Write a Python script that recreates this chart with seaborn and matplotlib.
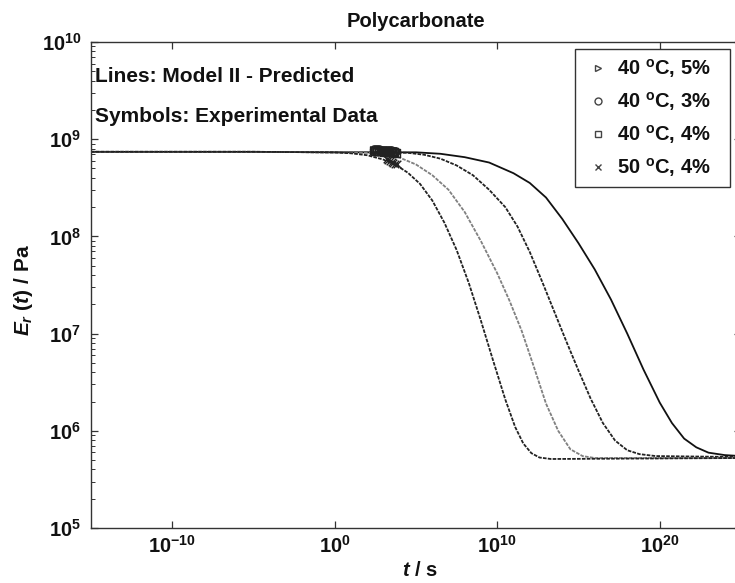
import matplotlib
matplotlib.use("Agg")
import numpy as np
import pandas as pd
import matplotlib.pyplot as plt
import seaborn as sns
from matplotlib.lines import Line2D
from matplotlib.ticker import FixedLocator, FixedFormatter, LogLocator, NullLocator, NullFormatter

# ---------------- data (log10 values) ----------------
series_names = ["40 ºC, 5%", "40 ºC, 3%", "40 ºC, 4%", "50 ºC, 4%"]
legend_labels = [r"40 $^{o}$C, 5%   ", r"40 $^{o}$C, 3%   ", r"40 $^{o}$C, 4%   ", r"50 $^{o}$C, 4%   "]
markers = [">", "o", "s", "x"]

# Model II predicted curves
log_t_50C_4 = [-15, -5, 0, 1.0, 2.0, 3.0, 3.9, 4.5, 5.25, 6.0, 6.75, 7.5, 8.25, 9.0, 9.75, 10.5,
               11.1, 11.6, 12.1, 12.6, 13.3, 25]
log_E_50C_4 = [8.87, 8.87, 8.865, 8.855, 8.835, 8.79, 8.72, 8.655, 8.54, 8.37, 8.14, 7.86, 7.52,
               7.13, 6.72, 6.32, 6.04, 5.87, 5.77, 5.725, 5.71, 5.72]

log_t_40C_5 = [-15, -5, 0, 2.0, 3.0, 4.0, 5.0, 6.0, 7.0, 8.0, 9.0, 10.0, 10.75, 11.5, 12.25, 13.0,
               13.75, 14.5, 15.25, 16.0, 25]
log_E_40C_5 = [8.87, 8.87, 8.865, 8.865, 8.85, 8.81, 8.74, 8.63, 8.48, 8.25, 7.95, 7.62, 7.34, 7.03,
               6.66, 6.28, 6.00, 5.81, 5.74, 5.72, 5.72]

log_t_40C_4 = [-15, -5, 0, 3.0, 4.5, 5.5, 6.5, 7.5, 8.5, 9.5, 10.5, 11.25, 12.0, 12.75, 13.5, 14.25,
               15.0, 15.75, 16.5, 17.25, 18.0, 18.75, 19.75, 25]
log_E_40C_4 = [8.87, 8.87, 8.865, 8.865, 8.86, 8.84, 8.80, 8.73, 8.63, 8.48, 8.30, 8.10, 7.84, 7.54,
               7.23, 6.92, 6.62, 6.33, 6.08, 5.90, 5.80, 5.76, 5.74, 5.73]

log_t_40C_3 = [-15, -5, 0, 3.0, 5.0, 6.5, 8.0, 9.5, 11.0, 12.0, 13.0, 14.0, 15.0, 16.0, 17.0, 18.0,
               19.0, 20.0, 20.75, 21.5, 22.25, 23.0, 24.0, 25]
log_E_40C_3 = [8.87, 8.87, 8.865, 8.865, 8.865, 8.85, 8.815, 8.76, 8.65, 8.55, 8.40, 8.18, 7.93, 7.66,
               7.35, 7.00, 6.63, 6.29, 6.08, 5.92, 5.83, 5.775, 5.75, 5.74]

# Experimental data (symbols)
log_t_exp_40C_5 = [2.45, 2.6, 2.75, 2.9, 3.05, 3.2, 3.35, 3.5, 3.65, 3.75]
log_E_exp_40C_5 = [8.88, 8.88, 8.87, 8.87, 8.87, 8.87, 8.86, 8.86, 8.86, 8.85]
log_t_exp_40C_3 = [2.45, 2.6, 2.75, 2.9, 3.05, 3.2, 3.35, 3.5, 3.65, 3.75]
log_E_exp_40C_3 = [8.89, 8.89, 8.89, 8.88, 8.88, 8.88, 8.88, 8.88, 8.87, 8.87]
log_t_exp_40C_4 = [2.45, 2.6, 2.75, 2.9, 3.05, 3.2, 3.35, 3.5, 3.65, 3.75]
log_E_exp_40C_4 = [8.88, 8.88, 8.88, 8.88, 8.87, 8.87, 8.87, 8.87, 8.87, 8.86]
log_t_exp_50C_4 = [3.2, 3.3, 3.4, 3.5, 3.6, 3.7, 3.8]
log_E_exp_50C_4 = [8.80, 8.79, 8.78, 8.77, 8.76, 8.75, 8.74]

x_ticks = [1e-10, 1e0, 1e10, 1e20]
x_tick_labels = [r"$10^{-10}$", r"$10^{0}$", r"$10^{10}$", r"$10^{20}$"]
y_ticks = [1e5, 1e6, 1e7, 1e8, 1e9, 1e10]
y_tick_labels = [r"$10^{5}$", r"$10^{6}$", r"$10^{7}$", r"$10^{8}$", r"$10^{9}$", r"$10^{10}$"]

# ---------------- tables ----------------
def frame(lt, le, name):
    return pd.DataFrame({"t": np.power(10.0, lt), "E": np.power(10.0, le), "series": name})

curves = pd.concat([
    frame(log_t_40C_3, log_E_40C_3, series_names[1]),
    frame(log_t_40C_4, log_E_40C_4, series_names[2]),
    frame(log_t_40C_5, log_E_40C_5, series_names[0]),
    frame(log_t_50C_4, log_E_50C_4, series_names[3]),
], ignore_index=True)

exp = pd.concat([
    frame(log_t_exp_40C_3, log_E_exp_40C_3, series_names[1]),
    frame(log_t_exp_40C_4, log_E_exp_40C_4, series_names[2]),
    frame(log_t_exp_40C_5, log_E_exp_40C_5, series_names[0]),
    frame(log_t_exp_50C_4, log_E_exp_50C_4, series_names[3]),
], ignore_index=True)

line_styles = {
    series_names[1]: dict(color="#111111", linestyle="-"),
    series_names[2]: dict(color="#222222", linestyle=(0, (2.0, 0.7))),
    series_names[0]: dict(color="#808080", linestyle=(0, (2.0, 0.7))),
    series_names[3]: dict(color="#222222", linestyle=(0, (2.0, 0.7))),
}
marker_of = dict(zip(series_names, markers))

# ---------------- style ----------------
sns.set_theme(style="white")
plt.rcParams.update({
    "font.family": ["Liberation Sans", "DejaVu Sans"],
    "font.weight": "bold",
    "axes.labelweight": "bold",
    "axes.titleweight": "bold",
    "mathtext.fontset": "custom",
    "mathtext.rm": "Liberation Sans:bold",
    "mathtext.bf": "Liberation Sans:bold",
    "mathtext.sf": "Liberation Sans:bold",
    "mathtext.it": "Liberation Sans:italic:bold",
    "mathtext.default": "bf",
    "axes.edgecolor": "#333333",
    "axes.linewidth": 1.0,
    "xtick.color": "#333333",
    "ytick.color": "#333333",
})

fig = plt.figure(figsize=(7.35, 5.83), dpi=100)
ax = fig.add_axes([91 / 735, 1 - 528 / 583, 650 / 735, 486 / 583])
ax.set_xscale("log")
ax.set_yscale("log")

for name in [series_names[1], series_names[2], series_names[0], series_names[3]]:
    sub = curves[curves["series"] == name]
    sns.lineplot(data=sub, x="t", y="E", ax=ax, sort=False, estimator=None,
                 lw=1.3, legend=False, zorder=2, **line_styles[name])

for name in series_names:
    sub = exp[exp["series"] == name]
    m = marker_of[name]
    if m == "x":
        sns.scatterplot(data=sub, x="t", y="E", ax=ax, marker=m, color="#222222",
                        s=30, linewidth=1.0, legend=False, zorder=3)
    else:
        sns.scatterplot(data=sub, x="t", y="E", ax=ax, marker=m, facecolor="none",
                        edgecolor="#222222", s=34, linewidth=1.0, legend=False, zorder=3)

ax.set_xlim(1e-15, 1e25)
ax.set_ylim(1e5, 1e10)

ax.xaxis.set_major_locator(FixedLocator(x_ticks))
ax.xaxis.set_major_formatter(FixedFormatter(x_tick_labels))
ax.xaxis.set_minor_locator(NullLocator())
ax.yaxis.set_major_locator(FixedLocator(y_ticks))
ax.yaxis.set_major_formatter(FixedFormatter(y_tick_labels))
ax.yaxis.set_minor_locator(LogLocator(base=10, subs=(2, 3, 4, 5, 6, 7, 8, 9), numticks=50))
ax.yaxis.set_minor_formatter(NullFormatter())
ax.tick_params(which="both", direction="in", top=True, right=True, bottom=True, left=True)
ax.tick_params(which="major", length=5, width=0.9, labelsize=14.5, labelcolor="#111111")
ax.tick_params(which="minor", length=3, width=0.7)
ax.tick_params(axis="x", which="major", pad=5)
ax.tick_params(axis="y", which="major", pad=7)

ax.set_title("Polycarbonate", fontsize=14.5, fontweight="bold", pad=11, color="#111111")
ax.set_xlabel(r"$\mathit{t}$ / s", fontsize=14.5, fontweight="bold", color="#111111")
ax.xaxis.label.set_va("center")
ax.xaxis.set_label_coords((420 - 91) / 650, (528 - 570) / 486)
ax.set_ylabel(r"$\mathit{E_r}$ $\mathit{(t)}$ / Pa", fontsize=15, fontweight="bold", color="#111111")
ax.yaxis.label.set_va("center")
ax.yaxis.set_label_coords((24 - 91) / 650, (528 - 290) / 486)

ax.text(0.006, (528 - 76) / 486, "Lines: Model II - Predicted", transform=ax.transAxes,
        fontsize=15, fontweight="bold", va="center", ha="left", color="#111111")
ax.text(0.006, (528 - 117) / 486, "Symbols: Experimental Data", transform=ax.transAxes,
        fontsize=15, fontweight="bold", va="center", ha="left", color="#111111")

handles = [Line2D([], [], marker=m, ls="none", mfc="none", mec="#444444", color="#444444",
                  ms=5, mew=1.0) for m in markers]
leg = ax.legend(handles, legend_labels, loc="upper right",
                bbox_to_anchor=(730 / 735, 1 - 49 / 583), bbox_transform=fig.transFigure,
                frameon=True, fancybox=False, framealpha=1, edgecolor="#333333",
                borderpad=0.4, handlelength=1.4, handletextpad=0.25, labelspacing=0.5,
                fontsize=14.5, borderaxespad=0)
leg.get_frame().set_linewidth(1.0)
for txt in leg.get_texts():
    txt.set_color("#111111")

fig.savefig("out.png", dpi=100)
